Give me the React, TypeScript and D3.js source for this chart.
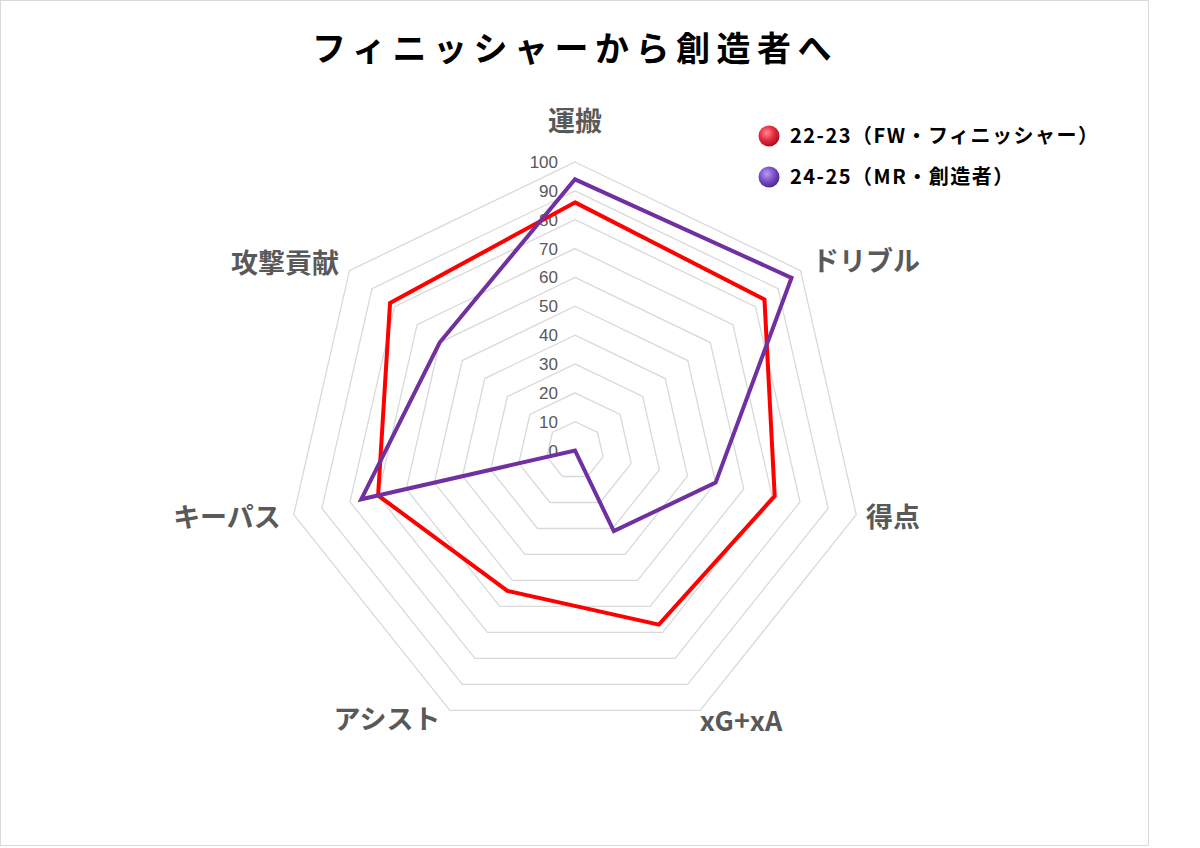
import React, { useRef, useEffect } from 'react';
import * as d3 from 'd3';

// axes, clockwise from the top
const axes = ['運搬', 'ドリブル', '得点', 'xG+xA', 'アシスト', 'キーパス', '攻撃貢献'];
const season2223 = [86, 84, 71, 67, 54, 70, 82];
const season2425 = [94, 96, 50, 31, 0, 76, 60];
const ticks = [0, 10, 20, 30, 40, 50, 60, 70, 80, 90, 100];
const seriesNames = ['22-23（FW・フィニッシャー）', '24-25（MR・創造者）'];
const seriesColors = ['#ff0000', '#7030a0'];

const W = 1200;
const H = 848;
const FONT = '"Noto Sans CJK JP", "Noto Sans", sans-serif';

const RadarChart = () => {
  const ref = useRef<SVGSVGElement>(null);

  useEffect(() => {
    const svg = d3.select(ref.current);
    svg.selectAll('*').remove();

    const cx = 575, cy = 450.5;
    const r = d3.scaleLinear().domain([0, 100]).range([0, 288.5]);
    const angle = (i: number) => (i / axes.length) * 2 * Math.PI;
    const pt = (i: number, v: number): [number, number] => [
      cx + r(v) * Math.sin(angle(i)),
      cy - r(v) * Math.cos(angle(i)),
    ];

    // frame
    svg.append('rect')
      .attr('x', 0.5).attr('y', 0.5)
      .attr('width', 1148).attr('height', 845)
      .attr('fill', '#fff')
      .attr('stroke', '#d9d9d9');

    // title
    svg.append('text')
      .attr('x', 575).attr('y', 61)
      .attr('text-anchor', 'middle')
      .style('font-family', FONT)
      .style('font-size', '34px')
      .style('font-weight', 700)
      .style('letter-spacing', '6.5px')
      .attr('fill', '#000')
      .text('フィニッシャーから創造者へ');

    // grid rings
    const line = d3.line<[number, number]>().curve(d3.curveLinearClosed);
    svg.append('g')
      .selectAll('path')
      .data(ticks.filter(t => t > 0))
      .join('path')
      .attr('d', t => line(axes.map((_, i) => pt(i, t))))
      .attr('fill', 'none')
      .attr('stroke', '#d9d9d9')
      .attr('stroke-width', 1.3);

    // tick labels
    svg.append('g')
      .selectAll('text')
      .data(ticks)
      .join('text')
      .attr('x', cx - 17)
      .attr('y', t => cy - r(t) + 6)
      .attr('text-anchor', 'end')
      .style('font-family', '"Liberation Sans", Arial, sans-serif')
      .style('font-size', '17px')
      .attr('fill', '#595959')
      .text(t => t);

    // axis labels
    const labelPos: [number, number][] = [
      [575, 131], [866, 271], [893, 527], [741, 731], [387, 729], [227, 527], [285, 273],
    ];
    svg.append('g')
      .selectAll('text')
      .data(axes)
      .join('text')
      .attr('x', (_, i) => labelPos[i][0])
      .attr('y', (_, i) => labelPos[i][1])
      .attr('text-anchor', 'middle')
      .style('font-family', FONT)
      .style('font-size', '27px')
      .style('font-weight', 700)
      .attr('fill', '#595959')
      .text(d => d);

    // series
    [season2223, season2425].forEach((vals, s) => {
      svg.append('path')
        .attr('d', line(vals.map((v, i) => pt(i, v))))
        .attr('fill', 'none')
        .attr('stroke', seriesColors[s])
        .attr('stroke-width', 4)
        .attr('stroke-linejoin', 'miter');
    });

    // legend with shiny dots
    const defs = svg.append('defs');
    const dotColors = [['#ff8a95', '#e8283c', '#a8101f'], ['#b79cf0', '#7a4fc8', '#4b2a8c']];
    dotColors.forEach((c, s) => {
      const g = defs.append('radialGradient')
        .attr('id', `dot${s}`)
        .attr('cx', '40%').attr('cy', '35%').attr('r', '65%');
      g.append('stop').attr('offset', '0%').attr('stop-color', c[0]);
      g.append('stop').attr('offset', '55%').attr('stop-color', c[1]);
      g.append('stop').attr('offset', '100%').attr('stop-color', c[2]);
    });

    const legend = svg.append('g');
    seriesNames.forEach((name, s) => {
      const y = 136 + s * 41;
      legend.append('circle')
        .attr('cx', 769).attr('cy', y).attr('r', 10.5)
        .attr('fill', `url(#dot${s})`);
      legend.append('text')
        .attr('x', 790).attr('y', y + 7)
        .style('font-family', FONT)
        .style('font-size', '20px')
        .style('font-weight', 700)
        .style('letter-spacing', '1.5px')
        .attr('fill', '#000')
        .text(name);
    });
  }, []);

  return <svg ref={ref} width={W} height={H} style={{ position: 'absolute', left: 0, top: 0 }} />;
};

export default function App() {
  return <RadarChart />;
}
